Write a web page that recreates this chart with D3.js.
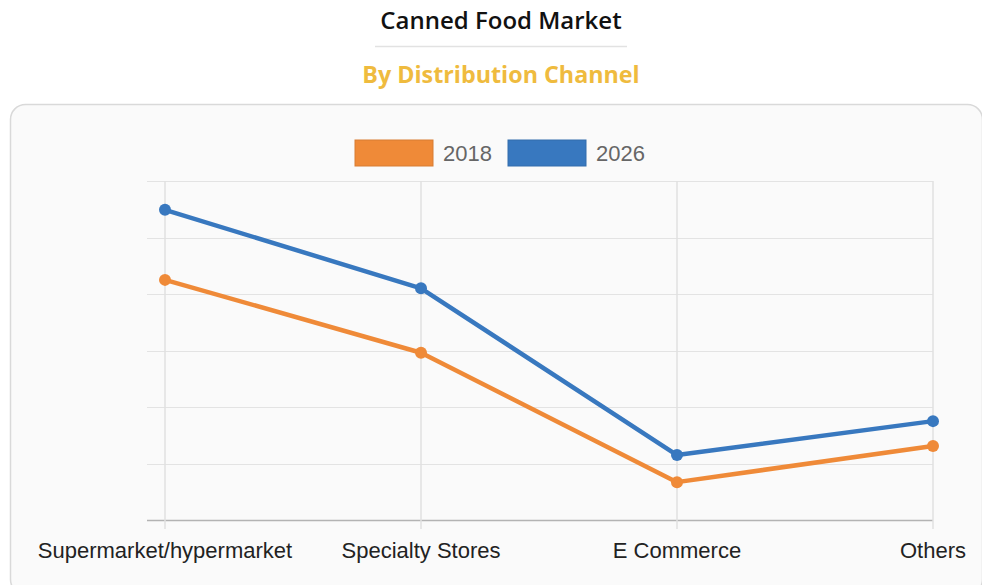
<!DOCTYPE html>
<html>
<head>
<meta charset="utf-8">
<script src="https://cdn.jsdelivr.net/npm/d3@7"></script>
<style>
  body { margin: 0; background: #fff; }
</style>
</head>
<body>
<div id="chart"></div>
<script>
// chart data
var categories = ["Supermarket/hypermarket", "Specialty Stores", "E Commerce", "Others"];
var years = ["2018", "2026"];
var values2018 = [42.5, 29.6, 6.7, 13.1];
var values2026 = [54.9, 41.0, 11.5, 17.5];
var yTicks = [0, 10, 20, 30, 40, 50, 60];

var colors = {"2018": "#ef8a38", "2026": "#3878bf"};

var W = 982, H = 585;

var svg = d3.select("#chart")
    .append("svg")
    .attr("width", W)
    .attr("height", H);

// titles
svg.append("text")
    .attr("x", 501).attr("y", 29)
    .attr("text-anchor", "middle")
    .style("font-family", "'Open Sans', sans-serif")
    .style("font-weight", "600")
    .style("font-size", "24px")
    .style("fill", "#111")
    .text("Canned Food Market");

svg.append("line")
    .attr("x1", 375).attr("x2", 627)
    .attr("y1", 46.5).attr("y2", 46.5)
    .style("stroke", "#e2e2e2")
    .style("stroke-width", 1.5);

svg.append("text")
    .attr("x", 501).attr("y", 83)
    .attr("text-anchor", "middle")
    .style("font-family", "'Open Sans', sans-serif")
    .style("font-weight", "700")
    .style("font-size", "23.3px")
    .style("fill", "#efbb3e")
    .text("By Distribution Channel");

// card background
svg.append("rect")
    .attr("x", 10.5).attr("y", 104.5)
    .attr("width", 972).attr("height", 490)
    .attr("rx", 15).attr("ry", 15)
    .style("fill", "#fafafa")
    .style("stroke", "#d9d9d9")
    .style("stroke-width", 1.5);

// scales
var x = d3.scalePoint()
    .domain(categories)
    .range([165, 933]);

var y = d3.scaleLinear()
    .domain([0, 60])
    .range([520, 181]);

var g = svg.append("g");

// horizontal grid
g.selectAll(".hgrid")
    .data(yTicks)
    .enter()
    .append("line")
    .attr("x1", 147).attr("x2", 933)
    .attr("y1", function(d) { return Math.round(y(d)) + 0.5; })
    .attr("y2", function(d) { return Math.round(y(d)) + 0.5; })
    .style("stroke", function(d) { return d === 0 ? "#b3b3b3" : "#e3e3e3"; })
    .style("stroke-width", function(d) { return d === 0 ? 1.5 : 1.2; });

// vertical grid
g.selectAll(".vgrid")
    .data(categories)
    .enter()
    .append("line")
    .attr("x1", function(d) { return x(d); })
    .attr("x2", function(d) { return x(d); })
    .attr("y1", 181).attr("y2", 529)
    .style("stroke", "#e0e0e0")
    .style("stroke-width", 1.5);

// x labels
g.selectAll(".xlabel")
    .data(categories)
    .enter()
    .append("text")
    .attr("x", function(d) { return x(d); })
    .attr("y", 558)
    .attr("text-anchor", "middle")
    .style("font-family", "'Liberation Sans', Arial, sans-serif")
    .style("font-size", "22px")
    .style("fill", "#222")
    .text(function(d) { return d; });

// series
var series = [
    {key: "2018", values: values2018},
    {key: "2026", values: values2026}
];

var line = d3.line()
    .x(function(d, i) { return x(categories[i]); })
    .y(function(d) { return y(d); });

series.forEach(function(s) {
    g.append("path")
        .datum(s.values)
        .attr("d", line)
        .style("fill", "none")
        .style("stroke", colors[s.key])
        .style("stroke-width", 4.5)
        .style("stroke-linejoin", "round");

    g.selectAll(".pt" + s.key)
        .data(s.values)
        .enter()
        .append("circle")
        .attr("cx", function(d, i) { return x(categories[i]); })
        .attr("cy", function(d) { return y(d); })
        .attr("r", 6)
        .style("fill", colors[s.key]);
});

// legend
var legend = svg.append("g");
var legendX = [355, 508];
years.forEach(function(k, i) {
    legend.append("rect")
        .attr("x", legendX[i]).attr("y", 140)
        .attr("width", 78).attr("height", 26)
        .style("fill", colors[k])
        .style("stroke", d3.color(colors[k]).darker(0.3))
        .style("stroke-width", 1);
    legend.append("text")
        .attr("x", legendX[i] + 88).attr("y", 161)
        .style("font-family", "'Liberation Sans', Arial, sans-serif")
        .style("font-size", "22px")
        .style("fill", "#666")
        .text(k);
});
</script>
</body>
</html>
